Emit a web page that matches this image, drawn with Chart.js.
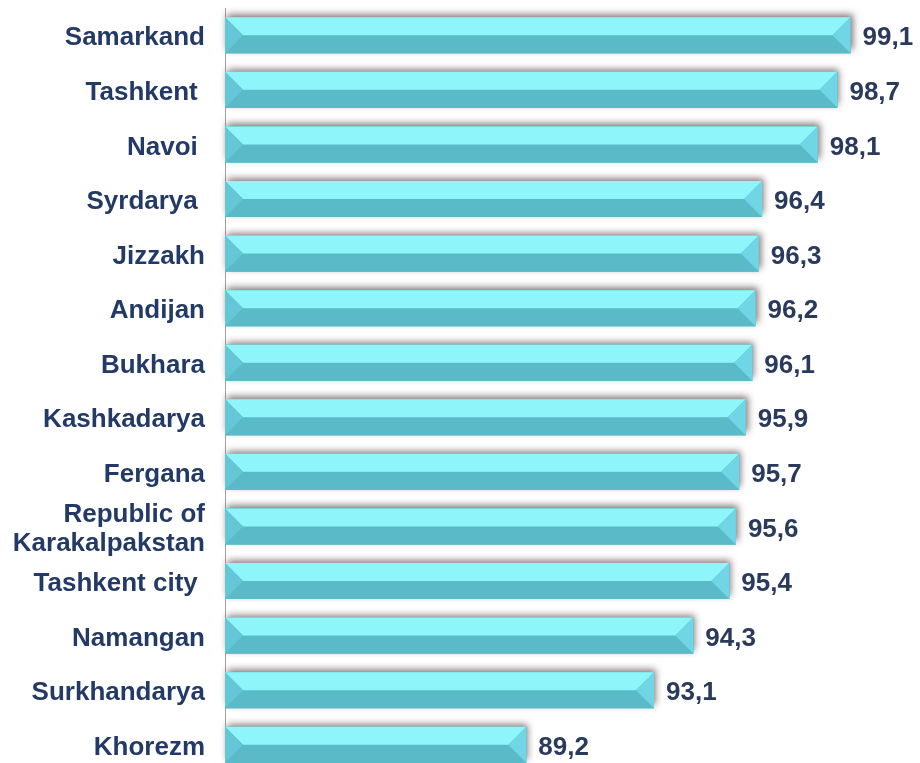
<!DOCTYPE html>
<html>
<head>
<meta charset="utf-8">
<script src="https://cdn.jsdelivr.net/npm/chart.js@4.4.0/dist/chart.umd.min.js"></script>
<style>
  html, body { margin: 0; padding: 0; background: #fff; overflow: hidden; }
  #wrap { width: 920px; height: 772px; position: relative; }
</style>
</head>
<body>
<div id="wrap"><canvas id="chart"></canvas></div>
<script>
// region names (trailing spaces kept as in the source labels)
const regions = [
  'Samarkand', 'Tashkent ', 'Navoi ', 'Syrdarya ', 'Jizzakh', 'Andijan', 'Bukhara',
  'Kashkadarya', 'Fergana', ['Republic of', 'Karakalpakstan'], 'Tashkent city ',
  'Namangan', 'Surkhandarya', 'Khorezm'
];
const values = [99.1, 98.7, 98.1, 96.4, 96.3, 96.2, 96.1, 95.9, 95.7, 95.6, 95.4, 94.3, 93.1, 89.2];
const axisMin = 80;
const axisMax = 100;

const TOP = '#8ef6fb';
const BOTTOM = '#5bbac8';
const LEFT = '#64c7d5';
const RIGHT = '#70d6e5';

// soft grey shadow under every bar
const barShadow = {
  id: 'barShadow',
  beforeDatasetsDraw(chart) {
    const ctx = chart.ctx;
    const meta = chart.getDatasetMeta(0);
    ctx.save();
    meta.data.forEach(bar => {
      const top = bar.y - bar.height / 2;
      ctx.shadowColor = 'rgba(90,70,70,0.75)';
      ctx.shadowBlur = 7;
      ctx.shadowOffsetX = 2;
      ctx.shadowOffsetY = -3;
      ctx.fillStyle = BOTTOM;
      ctx.fillRect(bar.base, top, bar.x - bar.base, bar.height);
    });
    ctx.restore();
  }
};

// bevelled faces + value labels
const bevel = {
  id: 'bevel',
  afterDatasetsDraw(chart) {
    const ctx = chart.ctx;
    const meta = chart.getDatasetMeta(0);
    ctx.save();
    meta.data.forEach((bar, i) => {
      const L = bar.base, R = bar.x;
      const T = bar.y - bar.height / 2, B = bar.y + bar.height / 2;
      const M = bar.y;
      const d = bar.height / 2;
      const face = (pts, color) => {
        ctx.beginPath();
        ctx.moveTo(pts[0][0], pts[0][1]);
        for (let k = 1; k < pts.length; k++) ctx.lineTo(pts[k][0], pts[k][1]);
        ctx.closePath();
        ctx.fillStyle = color;
        ctx.fill();
      };
      face([[L, B], [R, B], [R - d, M], [L + d, M]], BOTTOM);
      face([[L, T], [R, T], [R - d, M], [L + d, M]], TOP);
      face([[L, T], [L + d, M], [L, B]], LEFT);
      face([[R, T], [R - d, M], [R, B]], RIGHT);

      ctx.fillStyle = '#2a3a5c';
      ctx.font = 'bold 26px "Liberation Sans", Arial, sans-serif';
      ctx.textAlign = 'left';
      ctx.textBaseline = 'middle';
      ctx.fillText(values[i].toFixed(1).replace('.', ','), R + 12, M + 3);
    });
    ctx.restore();
  }
};

new Chart(document.getElementById('chart'), {
  type: 'bar',
  data: {
    labels: regions,
    datasets: [{
      data: values,
      base: axisMin,
      backgroundColor: BOTTOM,
      borderWidth: 0,
      categoryPercentage: 1,
      barPercentage: 0.66
    }]
  },
  options: {
    indexAxis: 'y',
    responsive: true,
    maintainAspectRatio: false,
    animation: false,
    layout: { padding: { top: 8, right: 40, bottom: 0, left: 0 } },
    plugins: { legend: { display: false }, tooltip: { enabled: false } },
    scales: {
      x: { display: false, min: axisMin, max: axisMax },
      y: {
        afterFit(scale) {
          scale.width = 225;
          scale.paddingTop = 0;
          scale.paddingBottom = 0;
        },
        grid: { display: false, drawTicks: false },
        border: { display: true, color: '#a0a0a0', width: 1 },
        ticks: {
          autoSkip: false,
          padding: 20,
          labelOffset: 3,
          color: '#243a66',
          font: { family: '"Liberation Sans", Arial, sans-serif', size: 26, weight: 'bold', lineHeight: 1.12 }
        }
      }
    }
  },
  plugins: [barShadow, bevel]
});
</script>
</body>
</html>
